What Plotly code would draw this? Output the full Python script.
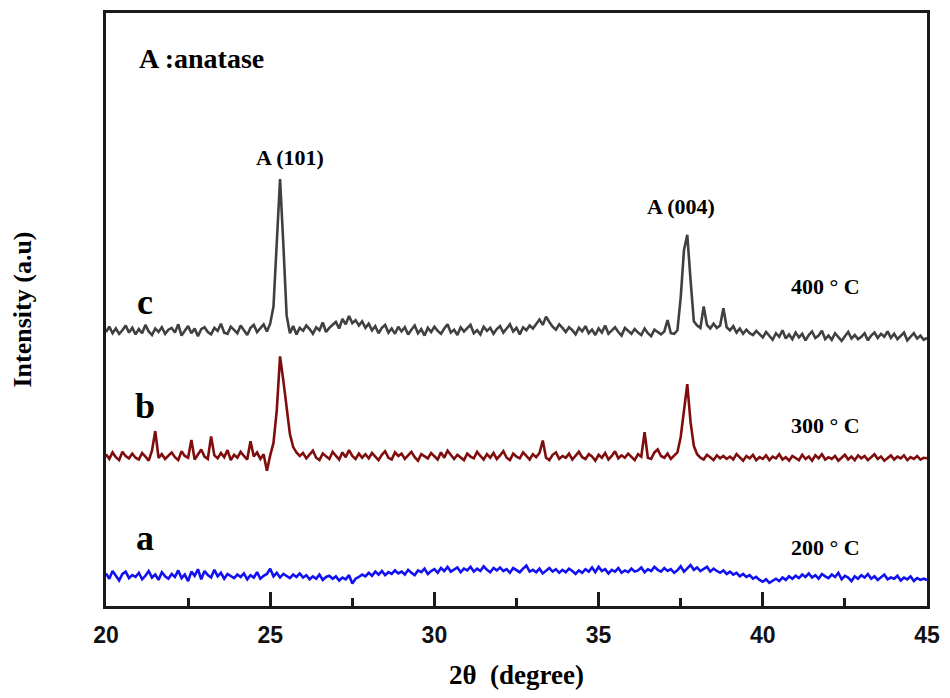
from plotly import graph_objects as go

# 2theta grid (degree), 0.1 step from 20 to 45
two_theta = [round(20 + 0.1 * i, 1) for i in range(251)]

# 400 C pattern (c)
intensity_400 = [
    46.2, 47.1, 46.0, 46.8, 45.9, 46.5, 47.3, 46.1, 46.9, 45.8,
    46.7, 46.0, 47.4, 46.3, 45.7, 46.8, 46.2, 47.0, 45.9, 46.6,
    46.9, 46.1, 47.5, 45.6, 46.4, 47.2, 46.0, 46.8, 45.5, 46.7,
    47.0, 46.2, 45.8, 46.9, 46.4, 47.6, 46.1, 45.9, 47.1, 46.5,
    46.0, 47.3, 46.6, 45.7, 46.9, 47.4, 46.2, 46.8, 47.5, 46.3,
    47.6, 50.5, 62.0, 72.0, 61.0, 49.0, 46.0, 47.2, 45.8, 46.9,
    46.4, 47.3, 46.7, 45.9, 47.0, 46.5, 47.8, 46.2, 46.9, 47.4,
    47.9, 46.8, 48.4, 47.5, 48.9, 47.7, 48.2, 47.3, 48.0, 46.9,
    47.6, 46.5, 47.2, 46.0, 46.9, 47.4, 46.1, 46.8, 45.9, 47.1,
    46.3, 47.0, 45.8, 46.6, 47.3, 46.0, 46.7, 45.6, 46.9, 46.2,
    47.1, 46.4, 45.9, 46.8, 47.5, 46.1, 46.6, 45.7, 47.0, 46.3,
    46.8, 47.4, 46.0, 46.5, 45.8, 47.1, 46.4, 46.9, 45.9, 46.7,
    47.2, 46.1, 46.8, 47.5, 46.3, 46.9, 45.8, 47.0, 46.5, 47.3,
    46.8, 47.6, 48.3, 47.4, 48.8, 47.9, 47.1, 46.6, 47.5, 46.9,
    46.2, 47.0, 46.5, 45.8, 46.9, 46.3, 47.2, 46.0, 46.6, 45.7,
    46.8, 46.1, 47.3, 45.9, 46.5, 47.0, 46.2, 45.6, 46.9, 46.4,
    45.9, 46.7, 46.1, 45.7, 46.8, 46.0, 45.5, 46.6, 46.2, 45.8,
    46.3, 48.2, 46.0, 45.9, 46.5, 52.0, 60.0, 62.6, 55.0, 48.0,
    47.3, 46.9, 50.5, 47.4, 46.8, 47.6, 46.9, 47.3, 50.2, 47.0,
    46.5, 47.2, 46.1, 46.8, 45.9, 46.6, 46.0, 45.7, 46.4, 45.8,
    45.3, 46.2, 45.6, 44.9, 46.0, 45.4, 46.5, 45.1, 45.8, 45.0,
    46.1, 45.3, 45.9, 44.8, 45.7, 46.3, 45.2, 45.6, 46.4, 45.0,
    45.6, 44.9, 46.0, 45.3, 44.7, 45.5, 46.2, 45.1, 45.7, 45.0,
    45.4, 46.0, 44.8, 45.6, 46.1, 45.2, 45.9, 45.4, 46.3, 45.2,
    45.9, 45.0, 45.6, 46.1, 44.8, 45.5, 46.0, 45.1, 45.6, 44.9,
    45.2,
]

# 300 C pattern (b)
intensity_300 = [
    25.6, 24.8, 25.9, 25.1, 24.6, 26.0, 25.3, 24.9, 25.7, 25.0,
    24.7, 25.8, 25.2, 24.5, 26.2, 29.5, 25.0, 25.6, 24.8, 25.4,
    25.9, 25.1, 24.6, 26.1, 25.3, 25.0, 28.0, 24.7, 25.5, 26.4,
    25.2, 24.8, 28.6, 25.4, 24.9, 25.8, 25.1, 26.3, 24.6, 25.5,
    25.0, 26.0, 25.3, 24.7, 27.8, 25.2, 25.9, 24.8, 25.6, 22.8,
    25.4, 27.5, 33.0, 42.1, 38.0, 33.0, 29.0, 26.8, 25.9, 25.3,
    25.8, 24.9, 25.5, 26.2, 25.0, 24.6, 25.7, 25.2, 24.8, 26.0,
    25.4, 24.7, 25.9, 25.1, 26.3, 25.3, 24.8, 25.7, 25.0, 25.6,
    24.9, 25.8, 25.2, 24.6, 25.5, 26.1, 25.0, 24.7, 25.9, 25.3,
    25.7, 24.8, 25.4, 26.0, 25.1, 24.5, 25.6, 25.2, 24.9, 25.8,
    25.3, 24.7, 25.9, 25.0, 26.2, 25.4, 24.8, 25.5, 25.1, 24.6,
    25.7, 25.2, 24.9, 26.0, 25.3, 24.7, 25.6, 25.0, 25.8, 24.8,
    25.4, 26.1, 25.0, 24.6, 25.7, 25.2, 24.9, 25.9, 25.3, 24.7,
    25.6, 25.1, 25.8, 27.9, 25.0, 24.6, 25.5, 25.9, 24.8, 25.3,
    25.0, 25.7, 24.7, 25.4, 26.0, 25.1, 24.8, 25.6, 25.2, 24.5,
    25.5, 25.0, 25.8, 24.7, 25.3, 26.1, 24.9, 25.4, 25.0, 25.7,
    25.1, 24.6, 25.6, 25.2, 29.3, 25.0, 24.8, 25.9, 26.4, 25.3,
    25.0, 25.7, 24.8, 25.4, 25.9, 28.5, 32.5, 37.4, 31.0, 27.0,
    25.6, 25.0, 24.7, 25.5, 25.1, 24.6, 25.4, 24.9, 25.3, 24.8,
    25.2, 24.7, 25.6, 25.0, 24.5, 25.3, 24.9, 25.5, 24.6, 25.1,
    24.8, 25.4, 24.6, 25.2, 24.9, 25.6, 24.7, 25.1, 24.5, 25.3,
    25.0, 24.6, 25.5, 24.8, 25.2, 24.5, 25.4, 24.9, 25.6, 24.7,
    25.1, 24.8, 25.3, 24.5, 25.0, 25.5, 24.7, 25.2, 24.6, 25.4,
    24.9, 25.3, 24.6, 25.1, 25.6, 24.8, 25.2, 24.5, 25.0, 25.4,
    24.7, 25.2, 24.9, 25.4, 24.6, 25.1, 24.8, 25.3, 24.7, 25.0,
    24.9,
]

# 200 C pattern (a), amorphous
intensity_200 = [
    5.5, 4.6, 5.9, 5.0, 4.3, 5.4, 5.8, 4.7, 5.2, 4.9,
    5.6, 4.5, 5.1, 5.9, 4.8, 5.3, 4.4, 5.7, 5.0, 4.6,
    5.4, 4.9, 6.0, 4.7, 5.3, 4.2, 5.8, 5.1, 6.2, 4.5,
    5.9, 5.2, 4.8, 6.1, 5.0, 5.6, 4.6, 5.4, 5.1, 4.7,
    5.3, 4.9, 5.5, 4.5, 5.2, 4.8, 5.7, 4.6, 5.1, 5.4,
    6.3, 5.0, 5.6, 4.8, 5.4, 5.1, 4.7, 5.3, 4.9, 5.5,
    4.8, 5.2, 4.5, 5.0, 4.6, 5.3, 4.4, 4.9, 5.1, 4.6,
    5.0, 4.3, 4.8, 4.5, 5.2, 3.8, 4.6, 4.9, 5.3, 5.0,
    5.6, 5.1, 5.8, 5.3, 5.9, 5.2, 5.7, 5.4, 6.0, 5.5,
    5.8, 5.3, 6.1, 5.6, 5.2, 6.0, 5.7, 6.3, 5.4, 5.9,
    6.2, 5.6, 6.4, 5.9, 6.6, 5.8, 6.1, 6.5, 5.7, 6.3,
    6.0, 6.6, 5.8, 6.3, 5.9, 6.7, 6.1, 5.7, 6.4, 6.0,
    6.5, 5.9, 6.2, 5.6, 6.4, 6.0, 5.7, 6.3, 6.8, 5.8,
    6.1, 5.7, 6.3, 5.5, 6.0, 6.4, 5.8, 6.2, 5.6, 6.1,
    5.7, 6.3, 5.9, 5.4, 6.0, 5.6, 6.2, 5.8, 6.5, 5.7,
    6.6, 5.9, 6.2, 5.5, 6.1, 5.8, 6.4, 5.6, 6.0, 5.7,
    6.3, 5.8, 6.0, 6.5, 5.7, 6.2, 5.9, 6.6, 6.1, 5.8,
    6.4, 5.9, 6.2, 5.6, 6.0, 6.7, 5.8, 6.3, 6.9, 6.1,
    6.5, 5.9, 6.2, 6.6, 5.8, 6.3, 5.9, 5.6, 6.0, 5.4,
    5.8, 5.3, 5.6, 5.0, 5.4, 4.9, 5.2, 4.6, 4.9, 4.4,
    4.1, 4.5, 3.9, 4.3, 4.6, 4.2, 4.8, 4.4, 5.0, 4.6,
    5.1, 4.7, 5.3, 4.9, 5.5, 4.8, 5.2, 4.6, 5.4, 5.0,
    4.7, 5.3, 4.9, 5.6, 4.5, 5.1, 4.8, 4.2, 5.0, 4.6,
    5.2, 4.8, 5.4, 4.6, 5.0, 4.4, 4.9, 5.3, 4.5, 4.8,
    4.6, 5.1, 4.3, 4.8, 4.5, 5.0, 4.2, 4.7, 4.4, 4.6,
    4.4,
]

patterns = [
    (intensity_400, "#404040", "400 ° C", "c"),
    (intensity_300, "#800d0d", "300 ° C", "b"),
    (intensity_200, "#1010f0", "200 ° C", "a"),
]

# text label positions (data units)
letter_pos = [(21.2, 51.3), (21.2, 33.7), (21.2, 11.4)]
temp_pos = [(41.9, 53.9), (41.9, 30.4), (41.9, 9.9)]
peak_labels = [(25.6, 75.7, "A (101)"), (37.5, 67.3, "A (004)")]

serif = "Liberation Serif, Times New Roman, serif"

fig = go.Figure()
for (vals, color, temp, letter) in patterns:
    fig.add_trace(go.Scatter(x=two_theta, y=vals, mode="lines",
                             line=dict(color=color, width=2.6), name=temp))

annotations = []
for (pos, pattern) in zip(letter_pos, patterns):
    annotations.append(dict(x=pos[0], y=pos[1], text=pattern[3], showarrow=False,
                            font=dict(family=serif, size=36, color="black", weight="bold")))
for (pos, pattern) in zip(temp_pos, patterns):
    annotations.append(dict(x=pos[0], y=pos[1], text=pattern[2], showarrow=False,
                            font=dict(family=serif, size=22, color="black", weight="bold")))
for (x, y, txt) in peak_labels:
    annotations.append(dict(x=x, y=y, text=txt, showarrow=False,
                            font=dict(family=serif, size=22, color="black", weight="bold")))
annotations.append(dict(x=20.94, y=92.4, text="A :anatase", showarrow=False, xanchor="left",
                        font=dict(family=serif, size=28, color="black", weight="bold")))

# page has an 8px body margin, so the figure is a bit smaller than the window
fig.update_layout(
    width=934, height=682,
    margin=dict(l=98, r=15, t=2, b=84),
    paper_bgcolor="white", plot_bgcolor="white",
    showlegend=False,
    annotations=annotations,
)
fig.update_xaxes(
    range=[20, 45], dtick=5, showgrid=False, zeroline=False,
    showline=True, mirror=True, linecolor="#1a1a1a", linewidth=3,
    ticks="inside", ticklen=14, tickwidth=3, tickcolor="#1a1a1a",
    minor=dict(ticks="inside", ticklen=8, tickwidth=3, tickcolor="#1a1a1a", dtick=2.5),
    tickfont=dict(family="Liberation Sans, Arial, sans-serif", size=23, color="#111", weight="bold"),
    ticklabelstandoff=6,
    title=dict(text="2θ  (degree)", standoff=20,
               font=dict(family=serif, size=27, color="black", weight="bold")),
)
fig.update_yaxes(
    range=[0, 100], showgrid=False, zeroline=False, showticklabels=False,
    showline=True, mirror=True, linecolor="#1a1a1a", linewidth=3, ticks="",
    title=dict(text="Intensity (a.u)", standoff=68,
               font=dict(family=serif, size=26, color="black", weight="bold")),
)

fig.write_html("out.html")
